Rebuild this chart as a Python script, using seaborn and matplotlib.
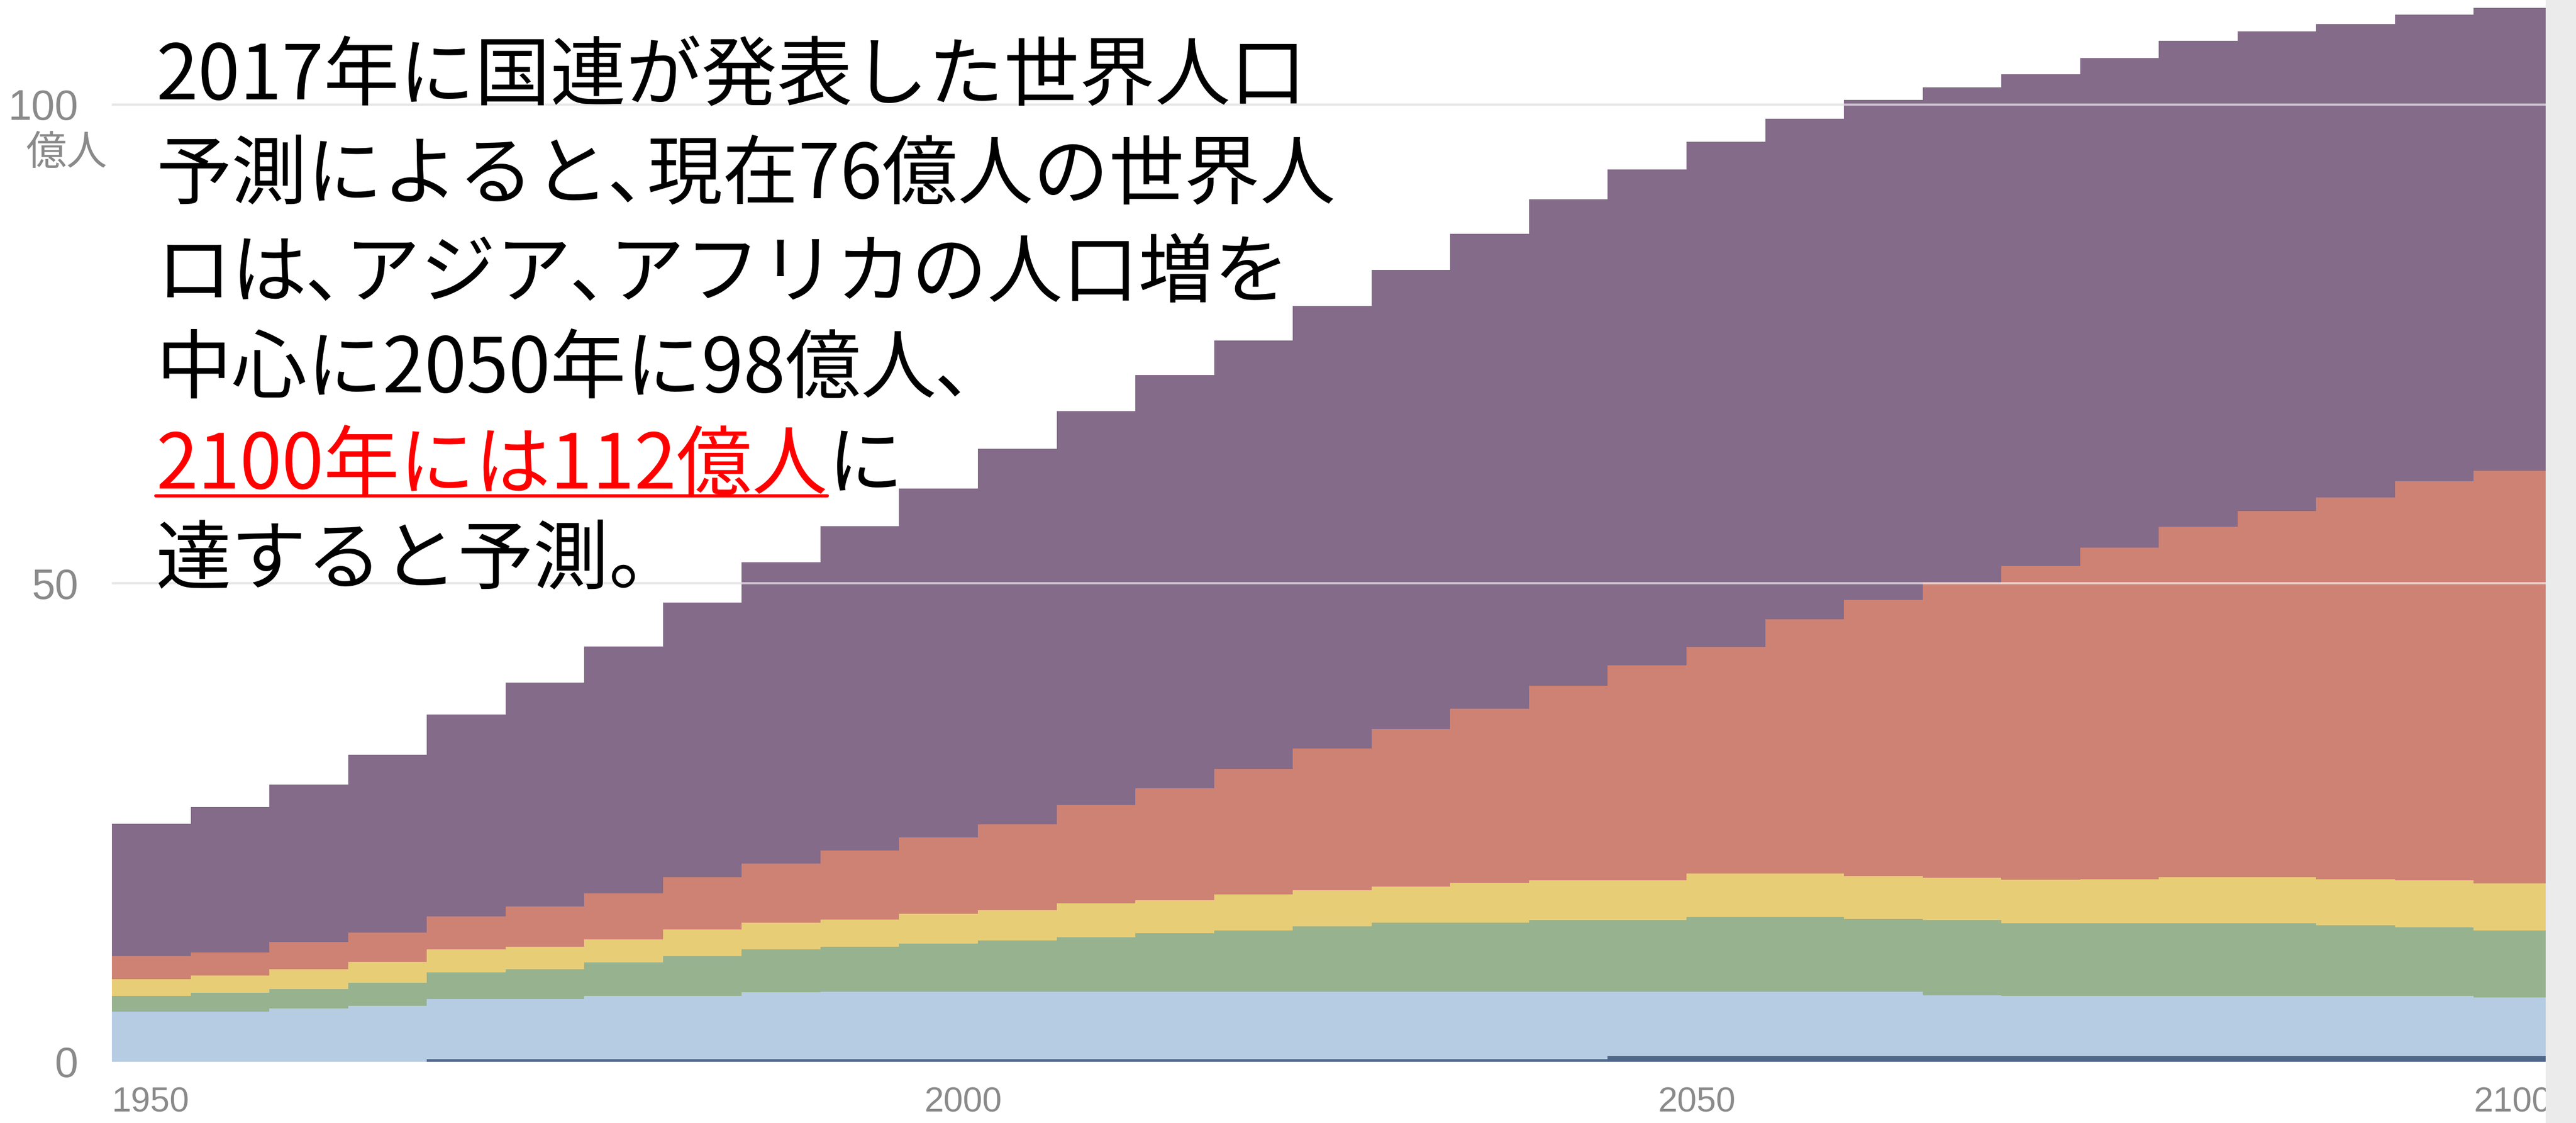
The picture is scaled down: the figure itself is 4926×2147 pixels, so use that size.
import numpy as np
import pandas as pd
import matplotlib
matplotlib.use("Agg")
import matplotlib.pyplot as plt
from matplotlib.lines import Line2D
from matplotlib.patches import Rectangle
import seaborn as sns

# ---------------- data (億人, 5-year steps) ----------------
years = [1950, 1955, 1960, 1965, 1970, 1975, 1980, 1985, 1990, 1995,
         2000, 2005, 2010, 2015, 2020, 2025, 2030, 2035, 2040, 2045,
         2050, 2055, 2060, 2065, 2070, 2075, 2080, 2085, 2090, 2095, 2100]

asia = [13.82, 15.19, 16.48, 18.55, 21.10, 23.39, 25.79, 28.66, 31.46, 33.92,
        36.45, 39.22, 41.16, 43.18, 44.74, 46.25, 47.97, 49.64, 50.82, 51.82,
        52.78, 52.33, 52.21, 51.74, 51.39, 51.15, 50.75, 50.11, 49.45, 48.72, 48.32]
africa = [2.40, 2.41, 2.83, 3.09, 3.40, 4.18, 4.77, 5.50, 6.18, 7.21,
          7.99, 8.97, 10.26, 11.70, 13.11, 14.81, 16.50, 18.19, 20.33, 22.42,
          23.71, 26.56, 28.86, 30.82, 32.80, 34.63, 36.60, 38.25, 39.86, 41.74, 43.13]
north_america = [1.72, 1.78, 2.09, 2.14, 2.45, 2.37, 2.45, 2.78, 2.80, 2.82,
                 3.14, 3.14, 3.54, 3.45, 3.77, 3.76, 3.76, 4.18, 4.18, 4.18,
                 4.51, 4.51, 4.48, 4.43, 4.50, 4.58, 4.79, 4.79, 4.80, 4.87, 4.92]
latin_america = [1.67, 1.98, 2.03, 2.44, 2.76, 3.11, 3.45, 4.12, 4.50, 4.72,
                 5.03, 5.40, 5.72, 6.13, 6.44, 6.85, 7.22, 7.22, 7.50, 7.50,
                 7.84, 7.84, 7.62, 7.85, 7.60, 7.60, 7.60, 7.60, 7.38, 7.17, 7.02]
europe = [5.24, 5.24, 5.55, 5.83, 6.26, 6.26, 6.61, 6.61, 6.95, 7.00,
          7.00, 7.00, 7.00, 7.00, 7.00, 7.00, 7.00, 7.00, 7.00, 6.70,
          6.70, 6.70, 6.70, 6.35, 6.30, 6.30, 6.30, 6.30, 6.30, 6.30, 6.10]
oceania = [0.0, 0.0, 0.0, 0.0, 0.3, 0.3, 0.3, 0.3, 0.3, 0.3,
           0.3, 0.3, 0.3, 0.3, 0.3, 0.3, 0.3, 0.3, 0.3, 0.6,
           0.6, 0.6, 0.6, 0.6, 0.6, 0.6, 0.6, 0.6, 0.6, 0.6, 0.6]

regions = ["アジア", "アフリカ", "北米", "中南米", "ヨーロッパ", "オセアニア"]
series = [asia, africa, north_america, latin_america, europe, oceania]
colors = ["#846b89", "#ce8274", "#e8cd77", "#96b28e", "#b6cce3", "#4f6789"]

ytick_values = [0, 50, 100]
ytick_labels = ["0", "50", "100"]
xtick_labels = ["1950", "2000", "2050", "2100"]
unit_label = "億人"

# the reference sets the ideographic comma in a proportional (half-width) form
text_lines = ["2017年に国連が発表した世界人口",
              "予測によると､現在76億人の世界人",
              "ロは､アジア､アフリカの人口増を",
              "中心に2050年に98億人､"]
text_red = "2100年には112億人"
text_after_red = "に"
text_last = "達すると予測。"

# ---------------- figure ----------------
W, H = 4926, 2147
DPI = 100
sns.set_theme(style="white")
plt.rcParams["font.family"] = ["Noto Sans CJK JP", "DejaVu Sans"]

fig = plt.figure(figsize=(W / DPI, H / DPI), dpi=DPI, facecolor="white")

ax_left, ax_right = 214, 4868
base_y = 2030
px_per_unit = 18.3
step_px = 150.55
ax = fig.add_axes([ax_left / W, (H - base_y) / H, (ax_right - ax_left) / W, base_y / H])
ax.set_facecolor("white")

df = pd.DataFrame({
    "year": np.tile(years, len(regions)),
    "pop": np.concatenate([np.asarray(s, float) for s in series]),
    "region": np.repeat(regions, len(years)),
})
edges = list(years) + [years[-1] + 5]

sns.histplot(data=df, x="year", weights="pop", hue="region", hue_order=regions,
             multiple="stack", bins=edges, element="step", fill=True,
             palette=dict(zip(regions, colors)), alpha=1, linewidth=0,
             edgecolor="none", legend=False, ax=ax, zorder=2)

x_right = years[0] + (ax_right - ax_left) / step_px * 5
ax.set_xlim(years[0], x_right)
ax.set_ylim(0, base_y / px_per_unit)

# gridlines: gray below, translucent white above the areas
for v in ytick_values[1:]:
    ax.axhline(v, color="#c4c4c4", lw=3, zorder=0)
    ax.axhline(v, color="white", alpha=0.6, lw=3, zorder=5)

for s in ax.spines.values():
    s.set_visible(False)
ax.grid(False)
ax.set_xlabel("")
ax.set_ylabel("")

ax.set_yticks(ytick_values)
ax.set_yticklabels(ytick_labels, fontsize=58, color="#8a8a8a",
                   family=["Liberation Sans", "DejaVu Sans"])
ax.tick_params(axis="y", length=0, pad=46)

# x tick label anchor positions (left edges as drawn in the reference)
xtick_pos = [1950.0, 2001.6, 2048.2, 2100.0]
ax.set_xticks(xtick_pos)
ax.set_xticklabels(xtick_labels, fontsize=48, color="#8a8a8a", ha="left",
                   family=["Liberation Sans", "DejaVu Sans"])
ax.tick_params(axis="x", length=0, pad=34)

fig.text(50 / W, 1 - 293 / H, unit_label, fontsize=56, color="#8a8a8a",
         ha="left", va="center", family=["Noto Sans CJK JP", "DejaVu Sans"])

# ---------------- annotation text ----------------
FS = 104
tx = 298
line_y = [148, 338, 526, 708, 892, 1074]
fig.canvas.draw()
renderer = fig.canvas.get_renderer()


def put(x_px, y_px, s, color="black"):
    return fig.text(x_px / W, 1 - y_px / H, s, color=color, fontsize=FS,
                    ha="left", va="center", zorder=20,
                    family=["Noto Sans CJK JP", "DejaVu Sans"])


for s, y in zip(text_lines, line_y[:4]):
    put(tx, y, s)

red = put(tx, line_y[4], text_red, color="#ff0000")
bb = red.get_window_extent(renderer)
put(bb.x1, line_y[4], text_after_red)
uy = 1 - 948 / H
fig.add_artist(Line2D([bb.x0 / W, bb.x1 / W], [uy, uy], color="#ff0000",
                      lw=4.5, transform=fig.transFigure, zorder=20))
put(tx, line_y[5], text_last)

# gray strip at the right edge
fig.add_artist(Rectangle((ax_right / W, 0), 1 - ax_right / W, 1,
                         transform=fig.transFigure, facecolor="#ebebeb",
                         edgecolor="none", zorder=30))

fig.savefig("out.png", dpi=DPI, facecolor="white")
